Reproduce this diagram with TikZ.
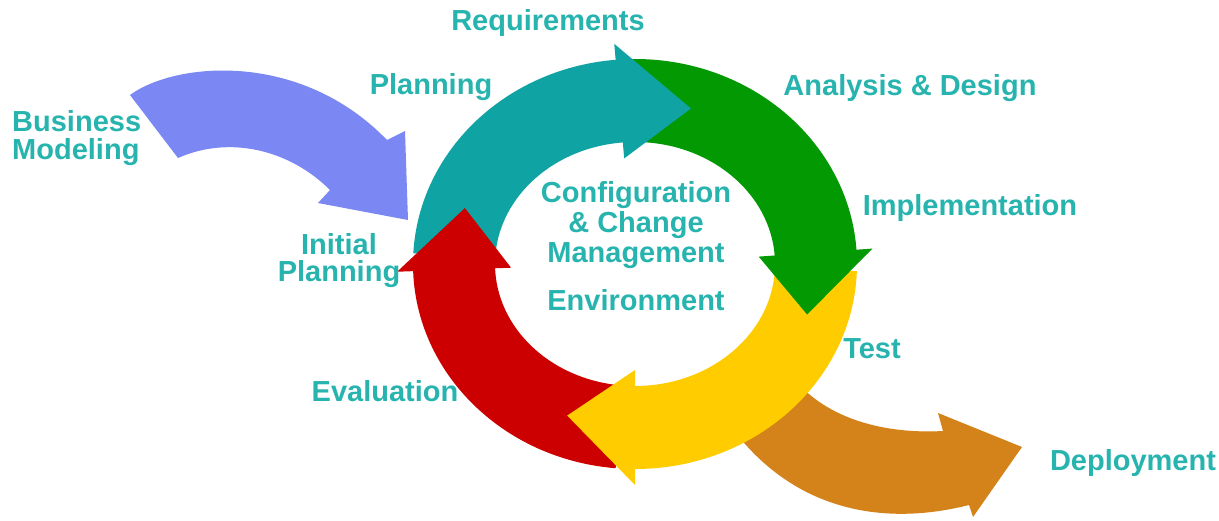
\documentclass[tikz,border=0pt]{standalone}
\usepackage{fontspec}
\setmainfont{Liberation Sans}
\definecolor{bluec}{RGB}{123,135,242}
\definecolor{tealc}{RGB}{16,163,163}
\definecolor{greenc}{RGB}{3,153,3}
\definecolor{yellowc}{RGB}{255,204,0}
\definecolor{redc}{RGB}{204,0,0}
\definecolor{orangec}{RGB}{212,130,26}
\definecolor{textc}{RGB}{40,180,174}
\newcommand{\RingBody}[3]{%
  \fill[#1] (#2:222 and 205) arc[start angle=#2,end angle=#3,x radius=222,y radius=205]
    -- (#3:140 and 122) arc[start angle=#3,end angle=#2,x radius=140,y radius=122] -- cycle;}
\newcommand{\RingHead}[3]{%
  \fill[#1] (#2:238 and 221) -- (#3:181 and 163.5) -- (#2:124 and 106) -- cycle;}
\begin{document}
\begin{tikzpicture}[x=1pt,y=-1pt,
  lbl/.style={font=\fontsize{29}{30}\selectfont\bfseries, text=textc, inner sep=0pt, anchor=base}]
\fill[white] (0,0) rectangle (1219,520);
\useasboundingbox (0,0) rectangle (1219,520);
% Business modeling arrow
\fill[bluec] (130,95) .. controls (175,62) and (300,50) .. (387,140) -- (405,131) -- (408,220)
  -- (318,203) -- (330,190) .. controls (290,150) and (230,135) .. (178,158) -- cycle;
% Deployment arrow
\fill[orangec] (785,365) .. controls (810,410) and (870,435) .. (943,431) -- (938,413) -- (1022,447)
  -- (973,517) -- (969,505) .. controls (890,525) and (800,515) .. (735,432) -- cycle;
\begin{scope}[shift={(635,264)}]
  \RingBody{tealc}{183}{266}
  \RingBody{greenc}{269}{357}
  \RingBody{yellowc}{2}{91}
  \RingBody{redc}{95}{179}
  \RingHead{tealc}{265}{288}
  \RingHead{greenc}{356}{378}
  \RingHead{yellowc}{90}{112}
  \RingHead{redc}{178}{200}
\end{scope}
% labels
\node[lbl] (req) at (548,30) {Requirements};
\node[lbl] (plan) at (431,94) {Planning};
\node[lbl] (ana) at (910,95) {Analysis \& Design};
\node[lbl,anchor=base west] (bus1) at (12,131) {Business};
\node[lbl,anchor=base west] (bus2) at (12,159) {Modeling};
\node[lbl] (impl) at (970,215) {Implementation};
\node[lbl] (conf1) at (636,202) {Configuration};
\node[lbl] (conf2) at (636,232) {\& Change};
\node[lbl] (conf3) at (636,262) {Management};
\node[lbl] (env) at (636,310) {Environment};
\node[lbl] (ini1) at (339,254) {Initial};
\node[lbl] (ini2) at (339,281) {Planning};
\node[lbl] (test) at (872,358) {Test};
\node[lbl] (eval) at (385,401) {Evaluation};
\node[lbl] (dep) at (1133,470) {Deployment};
\end{tikzpicture}
\end{document}
